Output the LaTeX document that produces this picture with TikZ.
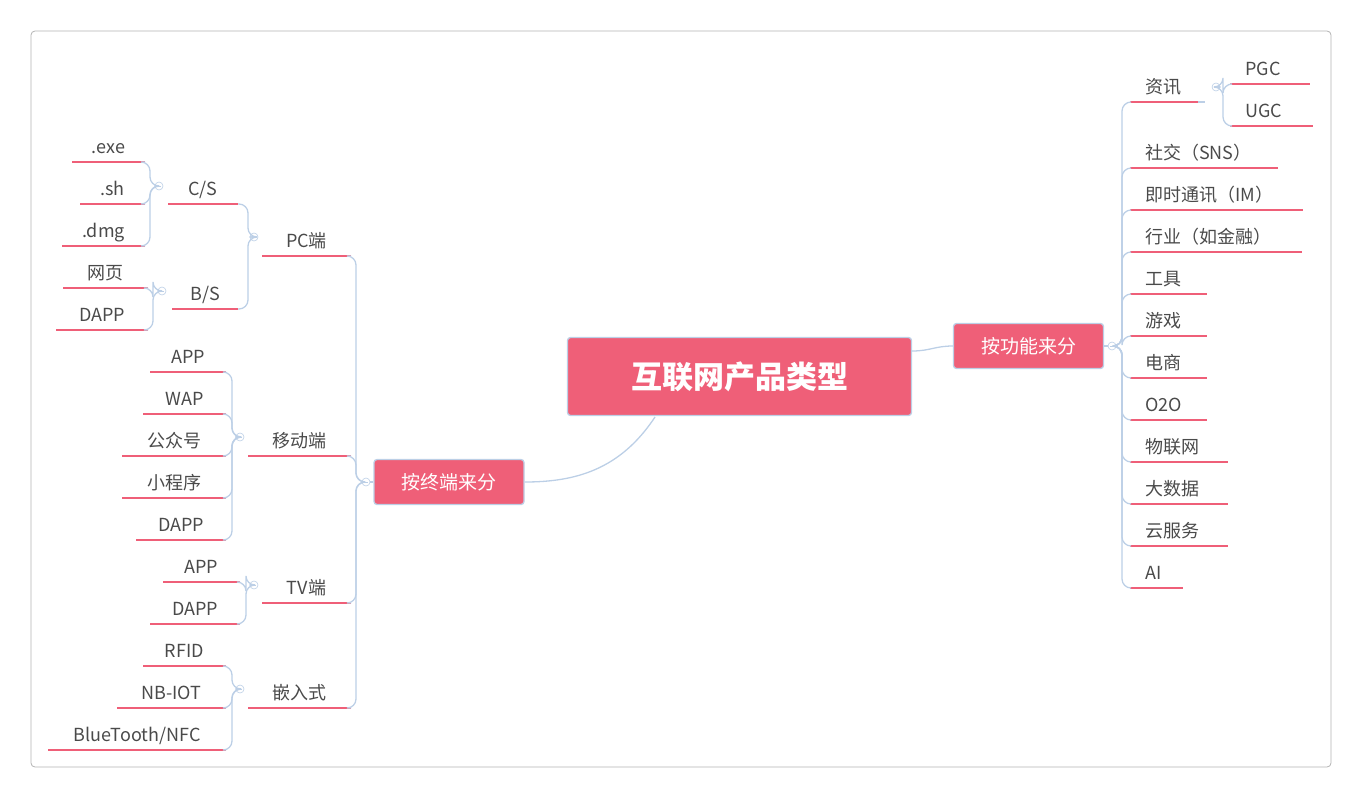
\documentclass[tikz,border=0pt]{standalone}
\usepackage{fontspec}
\setmainfont{Noto Sans CJK SC}
\definecolor{pk}{HTML}{EF5F78}
\definecolor{ln}{HTML}{BCCFE6}
\definecolor{tx}{HTML}{4A4A4A}
\tikzset{
 ul/.style={draw=pk,line width=2pt},
 conn/.style={draw=ln,line width=1.3pt,rounded corners=9pt},
 lf/.style={text=tx,inner sep=0pt,font=\fontsize{18}{20}\selectfont},
 bx/.style={fill=pk,draw=ln,line width=1.3pt,rounded corners=3pt,text=white,inner sep=0pt},
 colc/.style={circle,draw=ln,fill=white,minimum size=8pt,inner sep=0pt,line width=0.6pt,
  path picture={\draw[ln,line width=0.5pt]([xshift=-2pt]path picture bounding box.center)--([xshift=2pt]path picture bounding box.center);}}
}
\newcommand\RL[5]{\coordinate (#1l) at (#2,#4);\coordinate (#1r) at (#3,#4);\draw[ul](#1l)--(#1r);
 \node[lf,anchor=base west] (#1) at ({#2+15},{#4-9}) {#5};}
\newcommand\LL[5]{\coordinate (#1l) at (#2,#4);\coordinate (#1r) at (#3,#4);\draw[ul](#1l)--(#1r);
 \node[lf,anchor=base] (#1) at ({(#2+#3)/2},{#4-9}) {#5};}
\newcommand\col[3]{\node[colc] (#1) at (#2,#3) {};}
\newcommand\br[4]{\draw[conn] (#1) -- (#2,#3) |- (#4);}
\begin{document}
\begin{tikzpicture}[x=1pt,y=-1pt]
\useasboundingbox (0,0) rectangle (1362,798);
\draw[gray!60,rounded corners=4pt,line width=0.8pt] (31,31) rectangle (1331,767);
% central
\node[bx,minimum width=344pt,minimum height=78pt,font=\fontsize{31}{34}\selectfont\bfseries] (root) at (739.5,376.5) {互联网产品类型};
\node[bx,minimum width=150pt,minimum height=45pt,font=\fontsize{19}{22}\selectfont] (fun) at (1028.5,346) {按功能来分};
\node[bx,minimum width=150pt,minimum height=45pt,font=\fontsize{19}{22}\selectfont] (term) at (449,482) {按终端来分};
\draw[ln,line width=1.3pt] (root.east|-912,351) .. controls (930,351) and (935,346) .. (fun.west);
\draw[ln,line width=1.3pt] (655,417) .. controls (620,470) and (575,482) .. (term.east);
% right side
\RL{zx}{1130}{1198}{102}{资讯}
\RL{pgc}{1230}{1310}{84}{PGC}
\RL{ugc}{1230}{1313}{126}{UGC}
\RL{sj}{1130}{1278}{168}{社交（SNS）}
\RL{im}{1130}{1303}{210}{即时通讯（IM）}
\RL{hy}{1130}{1302}{252}{行业（如金融）}
\RL{gj}{1130}{1207}{294}{工具}
\RL{yx}{1130}{1207}{336}{游戏}
\RL{ds}{1130}{1207}{378}{电商}
\RL{oo}{1130}{1207}{420}{O2O}
\RL{wl}{1130}{1228}{462}{物联网}
\RL{dsj}{1130}{1228}{504}{大数据}
\RL{yf}{1130}{1228}{546}{云服务}
\RL{ai}{1130}{1183}{588}{AI}
\col{cf}{1112}{346}
\draw[ln,line width=1.3pt] (fun.east)--(cf);
\foreach \t in {zxl,sjl,iml,hyl,gjl,yxl,dsl,ool,wll,dsjl,yfl,ail}{\br{cf.east}{1122}{346}{\t}}
\col{czx}{1216}{87}
\draw[ln,line width=1.3pt] (zxr)--(1205,102);
\foreach \t in {pgcl,ugcl}{\br{czx.east}{1223}{87}{\t}}
% left side
\col{ct}{366}{482}
\draw[ln,line width=1.3pt] (term.west)--(ct);
\LL{pc}{262}{351}{256}{PC端}
\LL{yd}{248}{351}{456}{移动端}
\LL{tv}{262}{351}{603}{TV端}
\LL{qr}{248}{351}{708}{嵌入式}
\foreach \t in {pcr,ydr,tvr,qrr}{\br{ct.west}{356}{482}{\t}}
% PC
\col{cpc}{254}{237}
\LL{cs}{168}{238}{204}{C/S}
\LL{bs}{172}{238}{309}{B/S}
\foreach \t in {csr,bsr}{\br{cpc.west}{248}{237}{\t}}
\col{ccs}{159}{186}
\LL{exe}{72}{145}{162}{.exe}
\LL{sh}{80}{145}{204}{.sh}
\LL{dmg}{62}{145}{246}{.dmg}
\foreach \t in {exer,shr,dmgr}{\br{ccs.west}{150}{186}{\t}}
\col{cbs}{162}{291}
\LL{wy}{63}{148}{288}{网页}
\LL{bdapp}{56}{148}{330}{DAPP}
\foreach \t in {wyr,bdappr}{\br{cbs.west}{153}{291}{\t}}
% mobile
\col{cyd}{240}{437}
\LL{app}{150}{226}{372}{APP}
\LL{wap}{143}{226}{414}{WAP}
\LL{gzh}{122}{226}{456}{公众号}
\LL{xcx}{122}{226}{498}{小程序}
\LL{mdapp}{136}{226}{540}{DAPP}
\foreach \t in {appr,wapr,gzhr,xcxr,mdappr}{\br{cyd.west}{232}{437}{\t}}
% TV
\col{ctv}{254}{585}
\LL{tapp}{163}{240}{582}{APP}
\LL{tdapp}{150}{240}{624}{DAPP}
\foreach \t in {tappr,tdappr}{\br{ctv.west}{246}{585}{\t}}
% embedded
\col{cqr}{240}{689}
\LL{rfid}{143}{226}{666}{RFID}
\LL{nb}{117}{226}{708}{NB-IOT}
\LL{bt}{48}{226}{750}{BlueTooth/NFC}
\foreach \t in {rfidr,nbr,btr}{\br{cqr.west}{232}{689}{\t}}
\end{tikzpicture}
\end{document}
